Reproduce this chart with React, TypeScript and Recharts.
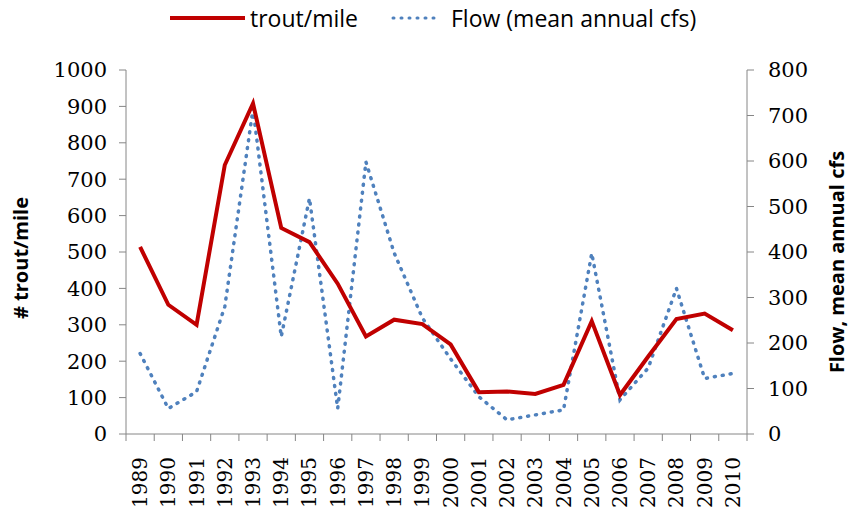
import React from "react";
import { LineChart, Line, XAxis, YAxis } from "recharts";

const YEARS = [
  "1989", "1990", "1991", "1992", "1993", "1994", "1995", "1996", "1997", "1998", "1999",
  "2000", "2001", "2002", "2003", "2004", "2005", "2006", "2007", "2008", "2009", "2010",
];
const TROUT = [514, 355, 300, 739, 908, 566, 527, 413, 268, 314, 302, 246, 115, 117, 110, 135, 310, 107, 213, 316, 331, 285];
const FLOW = [177, 56, 93, 280, 715, 214, 518, 56, 598, 398, 255, 165, 82, 31, 42, 53, 397, 75, 145, 320, 122, 133];
const LEFT_TICKS = [0, 100, 200, 300, 400, 500, 600, 700, 800, 900, 1000];
const RIGHT_TICKS = [0, 100, 200, 300, 400, 500, 600, 700, 800];

const data = YEARS.map((year, i) => ({ year, trout: TROUT[i], flow: FLOW[i] }));

const RED = "#c00000";
const BLUE = "#4f81bd";
const AXIS = "#868686";
const SERIF = "'DejaVu Serif', serif";
const BAND = 621 / YEARS.length;

function YearTick(props: any) {
  const { x, y, payload, index } = props;
  return (
    <g>
      <line x1={x - BAND / 2} y1={y} x2={x - BAND / 2} y2={y + 7} stroke={AXIS} />
      {index === YEARS.length - 1 && <line x1={x + BAND / 2} y1={y} x2={x + BAND / 2} y2={y + 7} stroke={AXIS} />}
      <text
        x={0}
        y={0}
        transform={`translate(${x},${y + 23}) rotate(-90)`}
        textAnchor="end"
        dominantBaseline="central"
        fontFamily={SERIF}
        fontSize={20}
        fill="#000"
      >
        {payload.value}
      </text>
    </g>
  );
}

export default function App() {
  return (
    <div style={{ position: "absolute", left: 0, top: 0, width: 855, height: 518, background: "#fff" }}>
      {/* legend */}
      <svg width={855} height={40} style={{ position: "absolute", left: 0, top: 0 }}>
        <line x1={170} y1={18} x2={245} y2={18} stroke={RED} strokeWidth={4} />
        <text x={250} y={18} dominantBaseline="central" fontFamily="'Liberation Sans Narrow', 'Open Sans', sans-serif" fontSize={23} fill="#000">
          trout/mile
        </text>
        <line x1={393} y1={18} x2={440} y2={18} stroke={BLUE} strokeWidth={3} strokeDasharray="1 7" strokeLinecap="round" />
        <text x={451} y={18} dominantBaseline="central" fontFamily="'Liberation Sans Narrow', 'Open Sans', sans-serif" fontSize={23} fill="#000">
          Flow (mean annual cfs)
        </text>
      </svg>

      <LineChart width={855} height={518} data={data} margin={{ top: 70, right: 48, bottom: 14, left: 66 }}>
        <XAxis
          dataKey="year"
          stroke={AXIS}
          tickLine={false}
          tickSize={0}
          tickMargin={0}
          interval={0}
          height={70}
          padding={{ left: BAND / 2, right: BAND / 2 }}
          tick={<YearTick />}
        />
        <YAxis
          yAxisId="left"
          domain={[0, 1000]}
          ticks={LEFT_TICKS}
          interval={0}
          width={60}
          stroke={AXIS}
          tickSize={7}
          tickMargin={12}
          tick={{ fill: "#000", fontFamily: SERIF, fontSize: 21 }}
        />
        <YAxis
          yAxisId="right"
          orientation="right"
          domain={[0, 800]}
          ticks={RIGHT_TICKS}
          interval={0}
          width={60}
          stroke={AXIS}
          tickSize={7}
          tickMargin={14}
          tick={{ fill: "#000", fontFamily: SERIF, fontSize: 21 }}
        />
        <Line
          yAxisId="right"
          dataKey="flow"
          type="linear"
          stroke={BLUE}
          strokeWidth={3.5}
          strokeDasharray="1 7"
          strokeLinecap="round"
          dot={false}
          isAnimationActive={false}
        />
        <Line
          yAxisId="left"
          dataKey="trout"
          type="linear"
          stroke={RED}
          strokeWidth={4}
          dot={false}
          isAnimationActive={false}
        />
      </LineChart>

      <div
        style={{
          position: "absolute",
          left: 20,
          top: 258,
          transform: "translate(-50%, -50%) rotate(-90deg)",
          whiteSpace: "nowrap",
          fontFamily: "'Open Sans', sans-serif",
          fontWeight: 700,
          fontSize: 20,
        }}
      >
        # trout/mile
      </div>
      <div
        style={{
          position: "absolute",
          left: 836,
          top: 262,
          transform: "translate(-50%, -50%) rotate(-90deg)",
          whiteSpace: "nowrap",
          fontFamily: "'Open Sans', sans-serif",
          fontWeight: 700,
          fontSize: 20,
        }}
      >
        Flow, mean annual cfs
      </div>
    </div>
  );
}
